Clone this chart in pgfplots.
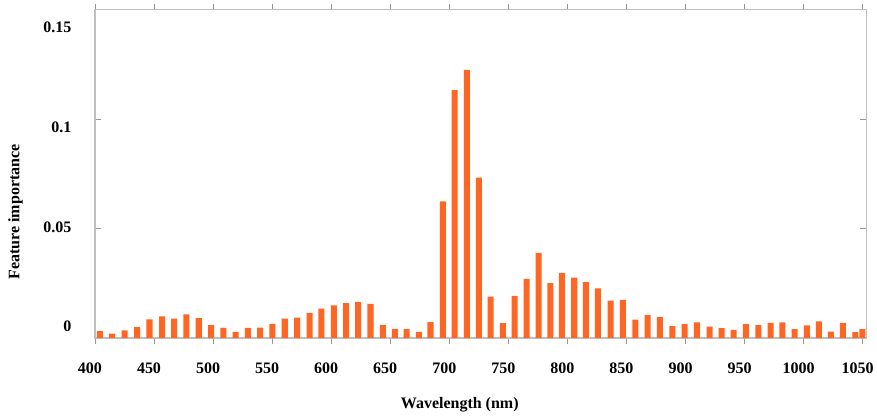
\documentclass[border=0pt]{standalone}
\usepackage{pgfplots}
\pgfplotsset{compat=1.18}
\usepackage{fontspec}
\setmainfont{Liberation Serif}
\definecolor{barc}{RGB}{255,102,35}
\definecolor{framec}{RGB}{191,191,191}
\definecolor{tickc}{RGB}{150,150,150}
\begin{document}
\begin{tikzpicture}
\begin{axis}[
  width=771.7pt, height=328.5pt, scale only axis,
  xmin=400, xmax=1053, ymin=0, ymax=0.15,
  clip=false,
  axis line style={draw=framec, line width=1.3pt},
  tick align=inside,
  major tick length=6pt,
  tick style={draw=tickc, line width=0.8pt},
  xtick={400,450,...,1050},
  ytick={0,0.05,0.1,0.15},
  yticklabels={},
  extra y ticks={0.0056,0.0506,0.09625,0.1419},
  extra y tick labels={0,0.05,0.1,0.15},
  extra y tick style={major tick length=0pt},
  /pgf/number format/assume math mode=true,
  /pgf/number format/1000 sep={},
  tick label style={font=\bfseries\fontsize{16}{16}\selectfont},
  xticklabel style={yshift=-15pt, xshift=-5pt},
  yticklabel style={xshift=-20pt},
  xlabel={Wavelength (nm)},
  ylabel={Feature importance},
  xlabel style={at={(axis description cs:0.473,-0.203)}, anchor=center, font=\bfseries\fontsize{16}{16}\selectfont},
  ylabel style={at={(axis description cs:-0.103,0.384)}, anchor=center, font=\bfseries\fontsize{16}{16}\selectfont},
  ybar, bar width=5.1,
]
\addplot[fill=barc, draw=none] table {
x y
404.1 0.0032
414.6 0.0020
425.2 0.0035
435.7 0.0050
446.2 0.0086
456.9 0.0099
467.1 0.0089
477.5 0.0109
487.9 0.0091
498.4 0.0059
508.8 0.0047
519.2 0.0029
529.4 0.0047
539.9 0.0048
550.3 0.0065
560.7 0.0089
571.2 0.0094
581.7 0.0115
591.8 0.0135
602.2 0.0149
612.7 0.0160
622.9 0.0165
633.3 0.0156
643.7 0.0061
653.9 0.0042
663.8 0.0041
674.2 0.0029
684.1 0.0073
694.5 0.0625
704.5 0.1133
714.9 0.1225
725.0 0.0733
735.0 0.0190
745.4 0.0068
755.3 0.0193
765.4 0.0271
775.6 0.0389
785.5 0.0251
795.3 0.0298
805.8 0.0276
815.6 0.0256
825.8 0.0227
836.6 0.0171
847.0 0.0175
857.5 0.0085
867.9 0.0105
878.3 0.0096
888.8 0.0055
899.2 0.0064
909.6 0.0072
920.4 0.0053
930.6 0.0046
940.7 0.0038
951.2 0.0064
961.6 0.0059
972.1 0.0070
982.0 0.0072
992.4 0.0041
1002.8 0.0058
1013.0 0.0076
1023.1 0.0030
1033.3 0.0070
1043.8 0.0027
1049.7 0.0041
};
\path (axis description cs:-0.1231,-0.2396) rectangle (axis description cs:1.0134,1.0298);
\end{axis}
\end{tikzpicture}
\end{document}
